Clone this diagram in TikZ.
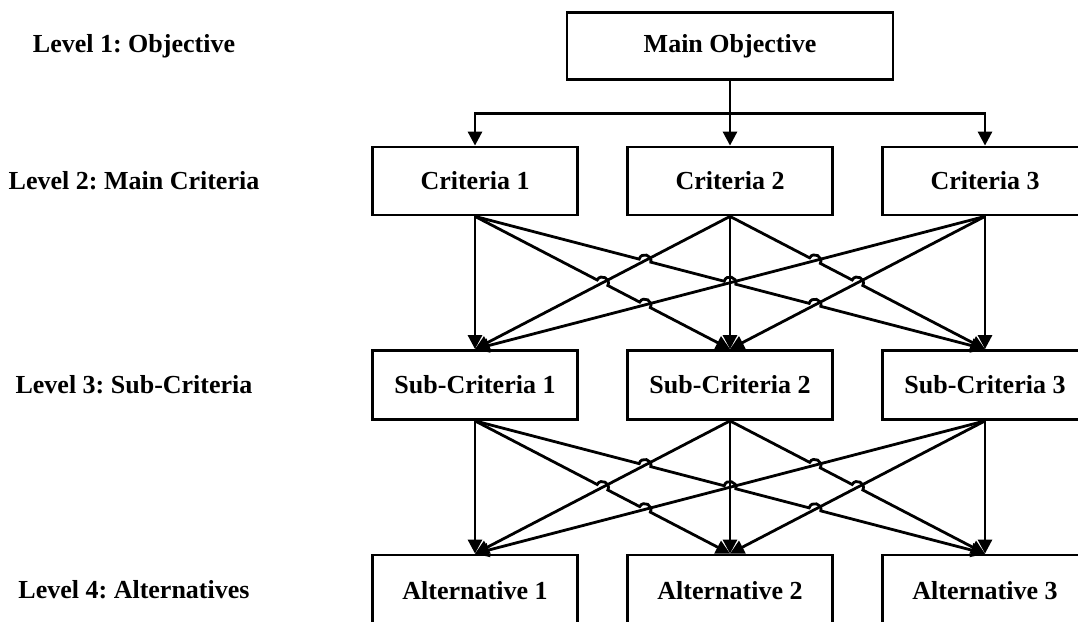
\documentclass[tikz,border=0pt]{standalone}
\usepackage{fontspec}
\setmainfont{Liberation Serif}
\usetikzlibrary{arrows.meta,calc}
\frenchspacing
\tikzset{
  txt/.style={font=\bfseries\fontsize{26}{30}\selectfont},
  box/.style={txt, draw, line width=2.8pt, minimum width=205pt, minimum height=68pt, inner sep=0pt},
  lvl/.style={txt, inner sep=0pt},
  conn/.style={line width=2.8pt, -{Triangle[length=14pt,width=14pt]}},
}
\newcommand\defhop[4]{%
  \coordinate (#1) at ($(#2)!#4!(#3)$);
  \coordinate (#1a) at ($(#1)!6pt!(#2)$);
  \coordinate (#1b) at ($(#1)!6pt!(#3)$);
  \coordinate (#1c) at ($(#1a)!7.6pt!90:(#1)$);
  \coordinate (#1d) at ($(#1b)!7.6pt!-90:(#1)$);
}
\newcommand\hp[1]{-- (#1a) .. controls (#1c) and (#1d) .. (#1b)}
\newcommand\mesh[3]{%
  \defhop{#3ac}{#11.south}{#22.north}{0.5}
  \defhop{#3ae}{#11.south}{#22.north}{0.6667}
  \defhop{#3bc}{#11.south}{#23.north}{0.3333}
  \defhop{#3be}{#11.south}{#23.north}{0.5}
  \defhop{#3bf}{#11.south}{#23.north}{0.6667}
  \defhop{#3de}{#12.south}{#23.north}{0.3333}
  \defhop{#3df}{#12.south}{#23.north}{0.5}
  \draw[conn] (#11.south) -- (#21.north);
  \draw[conn] (#12.south) -- (#22.north);
  \draw[conn] (#13.south) -- (#23.north);
  \draw[conn] (#12.south) -- (#21.north);
  \draw[conn] (#13.south) -- (#21.north);
  \draw[conn] (#13.south) -- (#22.north);
  \draw[conn] (#11.south) \hp{#3ac} \hp{#3ae} -- (#22.north);
  \draw[conn] (#11.south) \hp{#3bc} \hp{#3be} \hp{#3bf} -- (#23.north);
  \draw[conn] (#12.south) \hp{#3de} \hp{#3df} -- (#23.north);
}
\begin{document}
\begin{tikzpicture}[x=1pt,y=-1pt]
\useasboundingbox (0,0) rectangle (1078,621);
\clip (0,0) rectangle (1078,621);
% level labels
\node[lvl] (l1) at (134,46) {Level 1: Objective};
\node[lvl] (l2) at (134,181) {Level 2: Main Criteria};
\node[lvl] (l3) at (134,385) {Level 3: Sub-Criteria};
\node[lvl] (l4) at (134,590) {Level 4: Alternatives};
% boxes
\node[box, minimum width=326pt, minimum height=67pt] (mo) at (730,46) {Main Objective};
\node[box] (c1) at (475,181) {Criteria 1};
\node[box] (c2) at (730,181) {Criteria 2};
\node[box] (c3) at (985,181) {Criteria 3};
\node[box, minimum height=69pt] (s1) at (475,385) {Sub-Criteria 1};
\node[box, minimum height=69pt] (s2) at (730,385) {Sub-Criteria 2};
\node[box, minimum height=69pt] (s3) at (985,385) {Sub-Criteria 3};
\node[box, minimum height=72pt] (a1) at (475,591) {Alternative 1};
\node[box, minimum height=72pt] (a2) at (730,591) {Alternative 2};
\node[box, minimum height=72pt] (a3) at (985,591) {Alternative 3};
% top connectors
\coordinate (bar) at ($(mo.south)!0.5!(c2.north)$);
\draw[conn] (mo.south) -- (c2.north);
\draw[conn] (bar) -| (c1.north);
\draw[conn] (bar) -| (c3.north);
% meshes
\mesh{c}{s}{X}
\mesh{s}{a}{Y}
\end{tikzpicture}
\end{document}
